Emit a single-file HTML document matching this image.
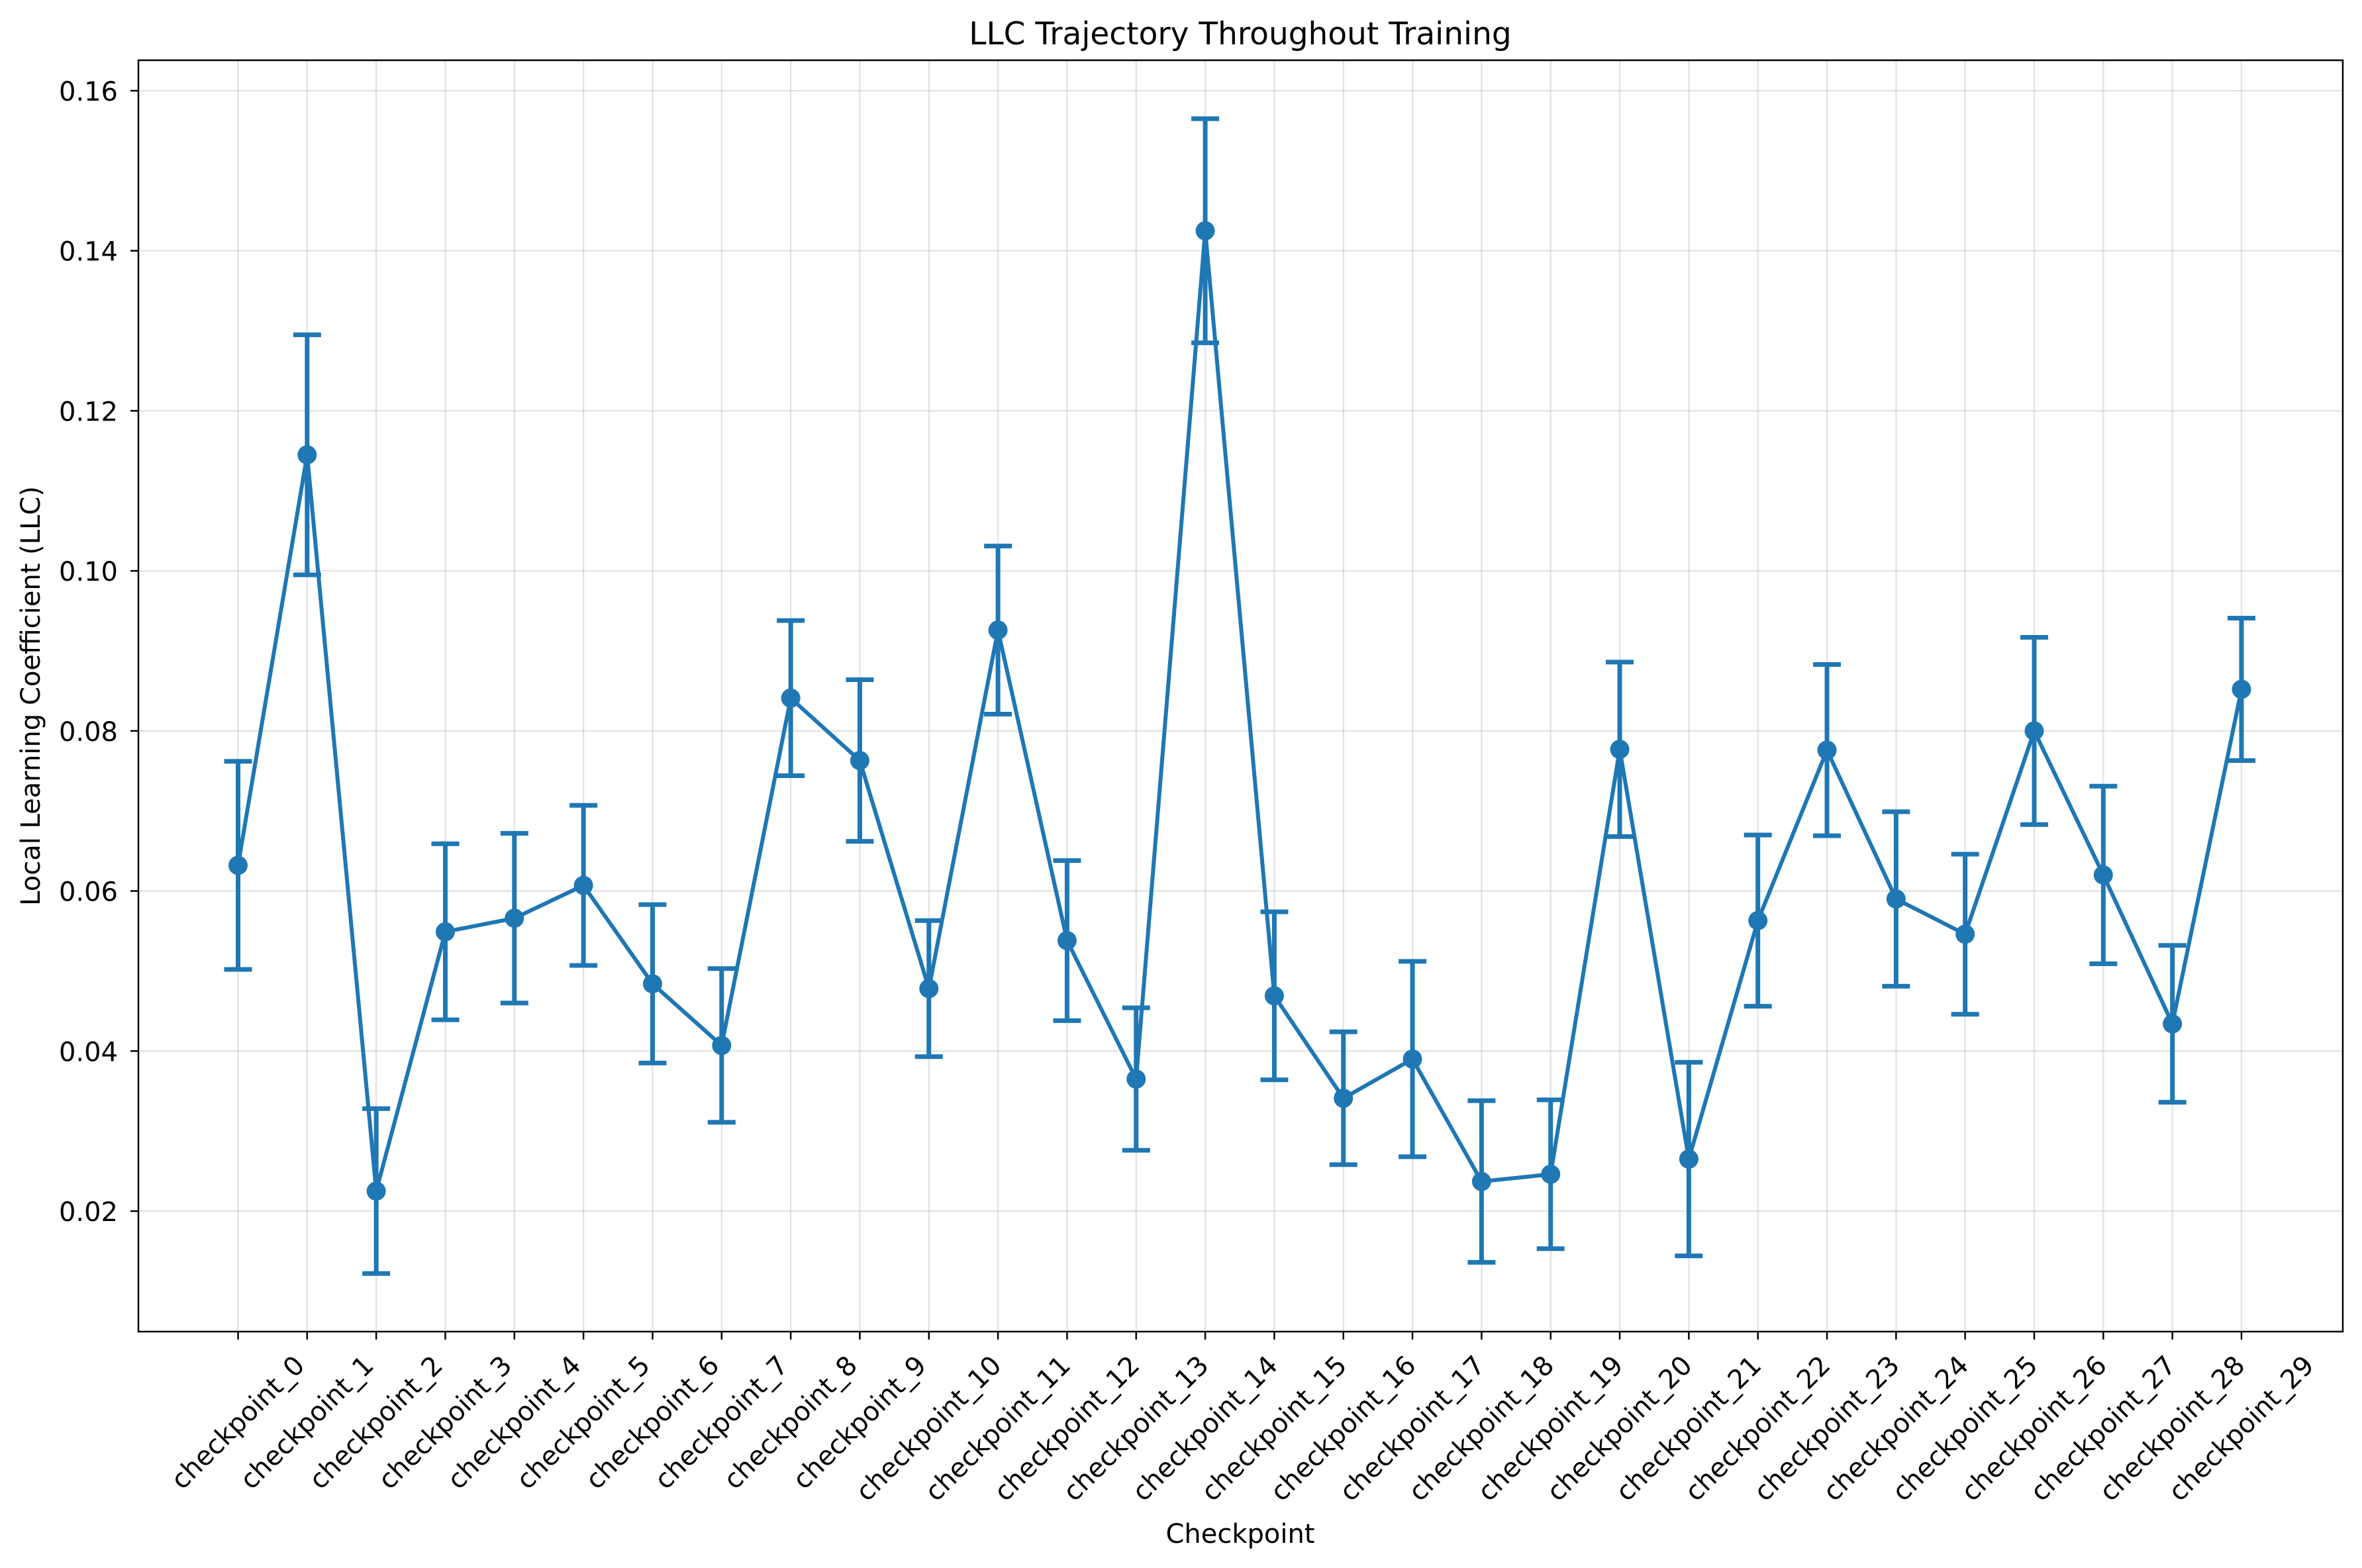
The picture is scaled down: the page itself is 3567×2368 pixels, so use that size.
<!DOCTYPE html>
<html><head><meta charset="utf-8"><style>
html,body{margin:0;padding:0;background:#fff}
svg{display:block}
text{font-family:"DejaVu Sans","Liberation Sans",sans-serif;fill:#000}
</style></head><body>
<svg id="chart" width="3567" height="2368" viewBox="0 0 3567 2368" xmlns="http://www.w3.org/2000/svg">
<rect width="3567" height="2368" fill="#fff"/>
<g id="grid"></g>
<g id="series"></g>
<rect x="209" y="91" width="3329" height="1920" fill="none" stroke="#000" stroke-width="2.5"/>
<g id="axes"></g>
<text x="1873" y="67" font-size="47" text-anchor="middle">LLC Trajectory Throughout Training</text>
<text x="1873" y="2330" font-size="40" text-anchor="middle">Checkpoint</text>
<text x="60" y="1051" font-size="40" text-anchor="middle" transform="rotate(-90 60 1051)">Local Learning Coefficient (LLC)</text>
</svg>
<script>
const categories = Array.from({length:30},(_,i)=>'checkpoint_'+i);
const llcMean = [0.0632,0.1145,0.0225,0.0549,0.0566,0.0607,0.0484,0.0407,0.0841,0.0763,0.0478,0.0926,0.0538,0.0365,0.1425,0.0469,0.0341,0.0390,0.0237,0.0246,0.0777,0.0265,0.0563,0.0776,0.0590,0.0546,0.0800,0.0620,0.0434,0.0852];
const llcErr = [0.013,0.015,0.0103,0.011,0.0106,0.010,0.0099,0.0096,0.0097,0.0101,0.0085,0.0105,0.010,0.0089,0.014,0.0105,0.0083,0.0122,0.0101,0.0093,0.0109,0.0121,0.0107,0.0107,0.0109,0.010,0.0117,0.0111,0.0098,0.0089];
const yTicks = [0.02,0.04,0.06,0.08,0.10,0.12,0.14,0.16];
const yTickLabels = ['0.02','0.04','0.06','0.08','0.10','0.12','0.14','0.16'];

const NS='http://www.w3.org/2000/svg';
const L=209,R=3538,T=91,B=2011;
const x0=359.5,x29=3385;
function xs(i){return x0+(x29-x0)*i/(categories.length-1);}
function ys(v){return 1829+(v-0.02)*(137-1829)/0.14;}
function mk(tag,attrs,parent){const e=document.createElementNS(NS,tag);for(const k in attrs)e.setAttribute(k,attrs[k]);parent.appendChild(e);return e;}
const grid=document.getElementById('grid'),axes=document.getElementById('axes'),series=document.getElementById('series');
const C='#1f77b4';

yTicks.forEach((v,i)=>{
  const y=ys(v);
  const g=mk('line',{x1:L,x2:R,y1:y,y2:y,stroke:'#b0b0b0','stroke-width':2.3,'stroke-opacity':0.35},grid);
  
  
  const t=mk('line',{x1:L-12,x2:L,y1:y,y2:y,stroke:'#000','stroke-width':2.5},axes);
  
  
  const tx=mk('text',{x:L-31,y:y+15,'font-size':40,'text-anchor':'end'},axes);
  tx.textContent=yTickLabels[i];
  
  
});
categories.forEach((c,i)=>{
  const x=xs(i);
  const g=mk('line',{x1:x,x2:x,y1:T,y2:B,stroke:'#b0b0b0','stroke-width':2.3,'stroke-opacity':0.35},grid);
  
  
  const t=mk('line',{x1:x,x2:x,y1:B,y2:B+12,stroke:'#000','stroke-width':2.5},axes);
  
  
  const tx=mk('text',{x:x,y:0,'font-size':40,'text-anchor':'middle','dominant-baseline':'central'},axes);
  tx.textContent=c;
  
  
  const len=tx.getComputedTextLength();
  const half=(len+40)*0.7071/2;
  const yc=B+30+half;
  tx.setAttribute('y',yc);
  tx.setAttribute('transform',`rotate(-45 ${x} ${yc})`);
});
llcMean.forEach((v,i)=>{
  const x=xs(i),yt=ys(v+llcErr[i]),yb=ys(v-llcErr[i]);
  const e=mk('path',{d:`M${x} ${yt}V${yb}M${x-21} ${yt}H${x+21}M${x-21} ${yb}H${x+21}`,stroke:C,'stroke-width':7,fill:'none'},series);
  
  
});
const pl=mk('polyline',{points:llcMean.map((v,i)=>xs(i)+','+ys(v)).join(' '),fill:'none',stroke:C,'stroke-width':6,'stroke-linejoin':'round'},series);


llcMean.forEach((v,i)=>{
  const c=mk('circle',{cx:xs(i),cy:ys(v),r:14.5,fill:C},series);
  
  
});
</script>
</body></html>
